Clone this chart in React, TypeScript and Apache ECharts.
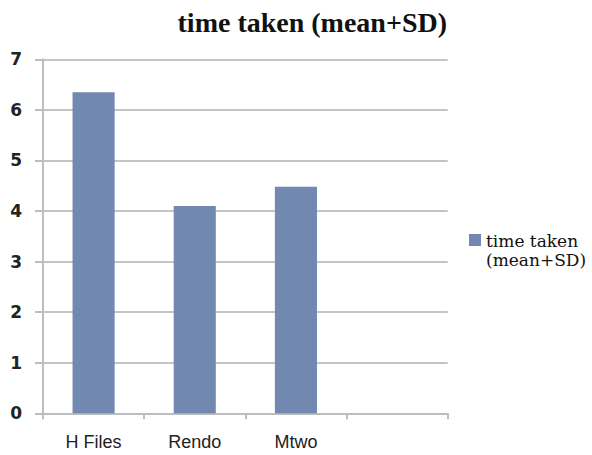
import React, { useEffect, useRef } from "react";
import * as echarts from "echarts";

const categories = ["H Files", "Rendo", "Mtwo", ""];
const values = [6.35, 4.1, 4.48, null];
const yTicks = { min: 0, max: 7, interval: 1 };
const seriesName = "time taken (mean+SD)";

export default function App() {
  const ref = useRef<HTMLDivElement>(null);
  useEffect(() => {
    const chart = echarts.init(ref.current!, null, { renderer: "svg" });
    chart.setOption({
      animation: false,
      backgroundColor: "#ffffff",
      title: {
        text: "time taken (mean+SD)",
        right: 145,
        top: 8,
        padding: 0,
        textStyle: { fontFamily: "Liberation Serif", fontWeight: "bold", fontSize: 28, color: "#111" },
      },
      legend: {
        left: 469,
        top: 231,
        padding: 0,
        orient: "vertical",
        icon: "path://M0,0H0.01V0.01H0Z M0,3H12V15H0Z M0,38H0.01V38.01H0Z",
        itemWidth: 12,
        itemHeight: 38,
        formatter: () => "time taken\n(mean+SD)",
        textStyle: { fontFamily: "DejaVu Serif", fontSize: 17, color: "#111", lineHeight: 19 },
        data: [seriesName],
      },
      grid: { left: 43, top: 59.3, right: 144.3, bottom: 41.7, containLabel: false },
      xAxis: {
        type: "category",
        data: categories,
        axisLine: { lineStyle: { color: "#bdbdbd", width: 2 } },
        axisTick: { show: true, length: 6, lineStyle: { color: "#bdbdbd", width: 2 } },
        axisLabel: { fontFamily: "Liberation Sans", fontSize: 18, color: "#222", margin: 20 },
      },
      yAxis: {
        type: "value",
        min: yTicks.min,
        max: yTicks.max,
        interval: yTicks.interval,
        axisLine: { show: true, lineStyle: { color: "#bdbdbd", width: 2 } },
        axisTick: { show: true, length: 8, lineStyle: { color: "#bdbdbd", width: 2 } },
        splitLine: { lineStyle: { color: "#c4c4c4", width: 2 } },
        axisLabel: { fontFamily: "DejaVu Sans", fontSize: 17, fontWeight: "bold", color: "#222", margin: 21 },
      },
      series: [
        {
          name: seriesName,
          type: "bar",
          data: values,
          barWidth: "41.6%",
          itemStyle: { color: "#7189b0" },
        },
      ],
    });
    return () => chart.dispose();
  }, []);
  return (
    <div
      ref={ref}
      style={{ position: "absolute", left: 0, top: 0, width: 592, height: 455 }}
    />
  );
}
